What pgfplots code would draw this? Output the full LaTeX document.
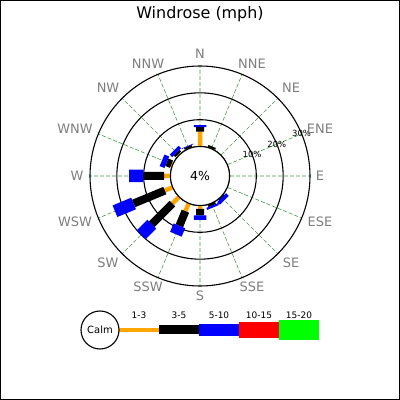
\documentclass[border=0pt]{standalone}
\usepackage{fontspec}
\setmainfont{DejaVu Sans}
\usepackage{pgfplots}
\pgfplotsset{compat=1.18}
\usepgfplotslibrary{polar}

\definecolor{rorange}{RGB}{255,165,0}
\definecolor{rblue}{RGB}{0,0,255}
\definecolor{rred}{RGB}{255,0,0}
\definecolor{rgreen}{RGB}{0,255,0}
\definecolor{lblgray}{RGB}{125,125,125}
\definecolor{gridgreen}{RGB}{70,150,70}

% radial unit = 1 %, bars start on the calm circle (radius 11)
\pgfplotsset{rose/.style={no markers, y filter/.expression={y+11}}}

\begin{document}
\begin{tikzpicture}
\draw[line width=1bp] (0.5bp,0.5bp) rectangle (399.5bp,399.5bp);
\node[font=\fontsize{16}{18}\selectfont, anchor=base] at (200bp,381bp) {Windrose (mph)};

\begin{polaraxis}[
  at={(200bp,224bp)}, anchor=center,
  scale only axis, width=220bp, height=220bp,
  ymin=0, ymax=41,
  xtick={0,22.5,...,337.5},
  ytick={11,21,31},
  xticklabels={}, yticklabels={},
  major tick length=0pt,
  xmajorgrids, ymajorgrids,
  x grid style={gridgreen, line width=0.6bp, dash pattern=on 4bp off 2bp},
  y grid style={black, line width=1.1bp},
  x axis line style={black, line width=1.1bp},
  y axis line style={draw=none},
  clip=false,
  unbounded coords=jump,
]
% calm disk
\fill[white] (axis cs:0,0) circle[radius=29.5bp];

% 1-3 mph (cumulative %)
\addplot[rose, rorange, line width=4.5bp] coordinates {
(90,0) (90,5.5) (nan,nan)
(67.5,0) (67.5,0.2) (nan,nan)
(112.5,0) (112.5,0.2) (nan,nan)
(135,0) (135,0.4) (nan,nan)
(157.5,0) (157.5,0.5) (nan,nan)
(180,0) (180,2.4) (nan,nan)
(202.5,0) (202.5,3.2) (nan,nan)
(225,0) (225,3.5) (nan,nan)
(247.5,0) (247.5,3.2) (nan,nan)
(270,0) (270,1.3) (nan,nan)
(292.5,0) (292.5,0.1) (nan,nan)
(315,0) (315,0.1)
};
% 3-5 mph
\addplot[rose, black, line width=8bp] coordinates {
(90,5.5) (90,7.2) (nan,nan)
(67.5,0.2) (67.5,0.9) (nan,nan)
(112.5,0.2) (112.5,0.9) (nan,nan)
(135,0.4) (135,1.3) (nan,nan)
(157.5,0.5) (157.5,2.4) (nan,nan)
(180,2.4) (180,10.1) (nan,nan)
(202.5,3.2) (202.5,15.8) (nan,nan)
(225,3.5) (225,14.4) (nan,nan)
(247.5,3.2) (247.5,9.1) (nan,nan)
(270,1.3) (270,3.7) (nan,nan)
(292.5,0.1) (292.5,0.9) (nan,nan)
(315,0.1) (315,0.4)
};
% 5-10 mph
\addplot[rose, rblue, line width=12.5bp] coordinates {
(90,7.2) (90,8.0) (nan,nan)
(112.5,0.9) (112.5,1.1) (nan,nan)
(135,1.3) (135,2.6) (nan,nan)
(157.5,2.4) (157.5,4.3) (nan,nan)
(180,10.1) (180,15.4) (nan,nan)
(202.5,15.8) (202.5,23.3) (nan,nan)
(225,14.4) (225,20.0) (nan,nan)
(247.5,9.1) (247.5,12.5) (nan,nan)
(270,3.7) (270,5.4) (nan,nan)
(292.5,0.9) (292.5,1.7) (nan,nan)
(315,0.4) (315,1.8)
};

\draw[black, line width=1.1bp] (axis cs:0,0) circle[radius=29.5bp];
\node[font=\fontsize{12.5}{14}\selectfont] at (axis cs:0,0) {4\%};
\node[font=\fontsize{8.5}{10}\selectfont, inner sep=0pt] at (axis cs:22.5,21) {10\%};
\node[font=\fontsize{8.5}{10}\selectfont, inner sep=0pt] at (axis cs:22.5,31) {20\%};
\node[font=\fontsize{8.5}{10}\selectfont, inner sep=0pt] at (axis cs:22.5,41) {30\%};
\end{polaraxis}

% compass labels
\begin{scope}[every node/.style={font=\fontsize{13}{15}\selectfont, text=lblgray, inner sep=0pt}]
\node at (200bp,346bp) {N};
\node at (252bp,336bp) {NNE};
\node at (291bp,312bp) {NE};
\node at (320bp,271bp) {ENE};
\node at (320bp,224bp) {E};
\node at (320bp,178bp) {ESE};
\node at (291bp,137bp) {SE};
\node at (252bp,113bp) {SSE};
\node at (200bp,104bp) {S};
\node at (148bp,113bp) {SSW};
\node at (108bp,137bp) {SW};
\node at (75bp,178bp) {WSW};
\node at (77bp,224bp) {W};
\node at (75bp,271bp) {WNW};
\node at (108bp,312bp) {NW};
\node at (148bp,336bp) {NNW};
\end{scope}

% legend
\draw[rorange, line width=4bp] (119bp,70bp) -- (159bp,70bp);
\draw[black, line width=9bp] (159bp,70bp) -- (199bp,70bp);
\draw[rblue, line width=12.5bp] (199bp,70bp) -- (239bp,70bp);
\draw[rred, line width=16.5bp] (239bp,70bp) -- (279bp,70bp);
\draw[rgreen, line width=20.5bp] (279bp,70bp) -- (319bp,70bp);
\draw[black, line width=1.1bp, fill=white] (100bp,70bp) circle[radius=19bp];
\node[font=\fontsize{10}{12}\selectfont] at (100bp,70bp) {Calm};
\begin{scope}[every node/.style={font=\fontsize{9}{11}\selectfont, inner sep=0pt}]
\node at (139bp,85bp) {1-3};
\node at (179bp,85bp) {3-5};
\node at (219bp,85bp) {5-10};
\node at (259bp,85bp) {10-15};
\node at (299bp,85bp) {15-20};
\end{scope}
\end{tikzpicture}
\end{document}
